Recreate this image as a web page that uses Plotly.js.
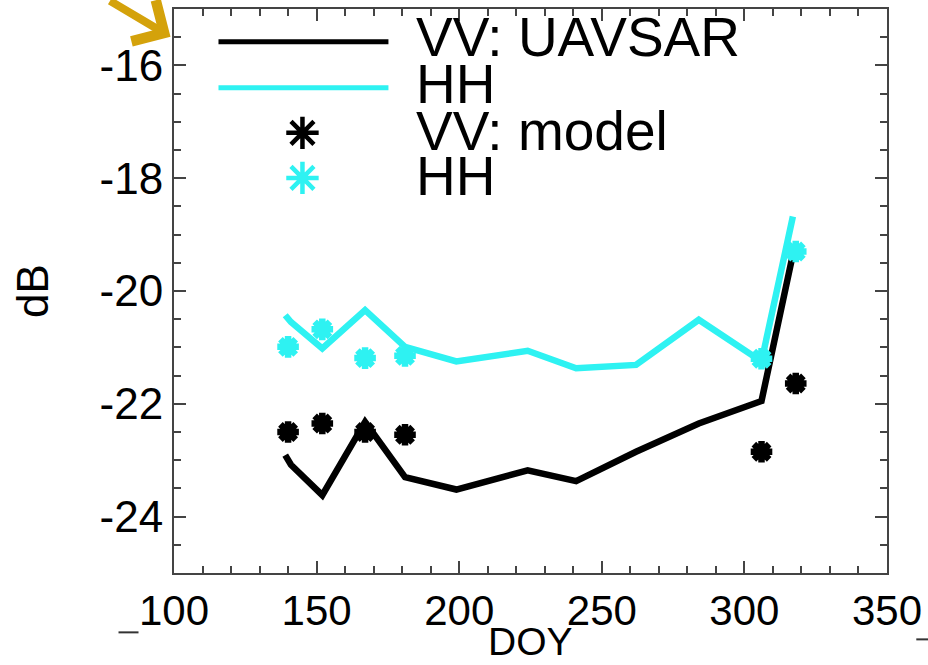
<!DOCTYPE html>
<html>
<head>
<meta charset="utf-8">
<script src="https://cdn.plot.ly/plotly-3.0.1.min.js"></script>
<style>
  html, body { margin: 0; padding: 0; background: #ffffff; }
  #chart { width: 928px; height: 665px; }
</style>
</head>
<body>
<div id="chart"></div>
<script>
// ---- data ----
const doyUavsar = [139, 141, 152, 167, 181, 199, 224, 241, 262, 284, 306, 317];
const vvUavsar  = [-22.91, -23.08, -23.62, -22.32, -23.30, -23.52, -23.18, -23.37, -22.85, -22.35, -21.95, -19.35];
const hhUavsar  = [-20.43, -20.55, -21.02, -20.34, -20.99, -21.25, -21.06, -21.37, -21.31, -20.51, -21.25, -18.68];

const doyModel = [140, 152, 167, 181, 306, 318];
const vvModel  = [-22.50, -22.35, -22.50, -22.55, -22.85, -21.64];
const hhModel  = [-20.99, -20.68, -21.19, -21.15, -21.20, -19.30];

const legendLabels = ['VV: UAVSAR', 'HH', 'VV: model', 'HH'];

const xTicks = [100, 150, 200, 250, 300, 350];
const yTicks = [-24, -22, -20, -18, -16];
const xTitle = 'DOY';
const yTitle = 'dB';

// ---- styles ----
const BLACK = '#000000';
const CYAN = '#2ef2f2';
const FONT = '"Liberation Sans Narrow", "Liberation Sans", Arial, sans-serif';

// plot area in pixels
const L = 173.5, R = 886.7, T = 9.3, B = 572.7;
const W = 928, H = 665;
const px2x = p => (p - L) / (R - L);
const px2y = p => (B - p) / (B - T);

const traces = [
  { x: doyUavsar, y: vvUavsar, type: 'scatter', mode: 'lines',
    line: { color: BLACK, width: 6.5 }, showlegend: false, hoverinfo: 'skip' },
  { x: doyUavsar, y: hhUavsar, type: 'scatter', mode: 'lines',
    line: { color: CYAN, width: 6.5 }, showlegend: false, hoverinfo: 'skip' },
  { x: doyModel, y: vvModel, type: 'scatter', mode: 'markers',
    marker: { symbol: 'asterisk-open', size: 18, color: BLACK, line: { color: BLACK, width: 6.5 } },
    showlegend: false, hoverinfo: 'skip' },
  { x: doyModel, y: hhModel, type: 'scatter', mode: 'markers',
    marker: { symbol: 'asterisk-open', size: 18, color: CYAN, line: { color: CYAN, width: 6.5 } },
    showlegend: false, hoverinfo: 'skip' },
  // hand-drawn legend symbols on an overlay axis pair spanning the plot area
  { x: [px2x(218), px2x(388)], y: [px2y(42), px2y(42)], xaxis: 'x2', yaxis: 'y2',
    type: 'scatter', mode: 'lines', line: { color: BLACK, width: 5 }, showlegend: false, hoverinfo: 'skip' },
  { x: [px2x(218), px2x(388)], y: [px2y(88), px2y(88)], xaxis: 'x2', yaxis: 'y2',
    type: 'scatter', mode: 'lines', line: { color: CYAN, width: 5 }, showlegend: false, hoverinfo: 'skip' },
  { x: [px2x(302)], y: [px2y(133)], xaxis: 'x2', yaxis: 'y2', type: 'scatter', mode: 'markers',
    marker: { symbol: 'asterisk-open', size: 27, color: BLACK, line: { color: BLACK, width: 4.5 } },
    showlegend: false, hoverinfo: 'skip' },
  { x: [px2x(302)], y: [px2y(178)], xaxis: 'x2', yaxis: 'y2', type: 'scatter', mode: 'markers',
    marker: { symbol: 'asterisk-open', size: 27, color: CYAN, line: { color: CYAN, width: 4.5 } },
    showlegend: false, hoverinfo: 'skip' }
];

const legendRowsY = [37, 84, 131, 176];
const annotations = legendLabels.map((t, i) => ({
  xref: 'paper', yref: 'paper', x: px2x(414), y: px2y(legendRowsY[i]),
  xanchor: 'left', yanchor: 'middle', text: t, showarrow: false,
  height: 45, valign: 'middle',
  font: { family: FONT, size: 55, color: '#000' }
}));
// x-axis title placed precisely below the tick labels
annotations.push({
  xref: 'paper', yref: 'paper', x: 0.5, y: px2y(665),
  xanchor: 'center', yanchor: 'bottom', text: xTitle, showarrow: false,
  font: { family: FONT, size: 39, color: '#000' }
});
// gold pointer arrow in the top-left corner
annotations.push({
  xref: 'paper', yref: 'paper', x: px2x(170), y: px2y(37),
  ax: -62, ay: -62, showarrow: true, arrowhead: 4, arrowsize: 1.15, arrowwidth: 8,
  arrowcolor: '#d4a20b', text: ''
});

const layout = {
  width: W, height: H,
  margin: { l: L, r: W - R, t: T, b: H - B, pad: 0 },
  paper_bgcolor: '#ffffff', plot_bgcolor: '#ffffff',
  showlegend: false,
  font: { family: FONT, color: '#000' },
  xaxis: {
    range: [100, 350], tickvals: xTicks, ticktext: xTicks.map(String),
    ticks: 'inside', ticklen: 12, tickwidth: 2, tickcolor: '#444',
    showline: true, linecolor: '#444', linewidth: 2, mirror: 'ticks',
    showgrid: false, zeroline: false,
    tickfont: { family: FONT, size: 42, color: '#000' },
    minor: { dtick: 10, tick0: 100, ticks: 'inside', ticklen: 7, tickwidth: 2, tickcolor: '#444', showgrid: false },
    automargin: false
  },
  yaxis: {
    range: [-25, -15], tickvals: yTicks, ticktext: yTicks.map(String),
    ticks: 'inside', ticklen: 12, tickwidth: 2, tickcolor: '#444',
    showline: true, linecolor: '#444', linewidth: 2, mirror: 'ticks',
    showgrid: false, zeroline: false,
    tickfont: { family: FONT, size: 44, color: '#000' },
    minor: { dtick: 0.5, tick0: -25, ticks: 'inside', ticklen: 7, tickwidth: 2, tickcolor: '#444', showgrid: false },
    title: { text: yTitle, font: { family: FONT, size: 44, color: '#000' }, standoff: 37 },
    automargin: false
  },
  xaxis2: { overlaying: 'x', range: [0, 1], visible: false, fixedrange: true },
  yaxis2: { overlaying: 'y', range: [0, 1], visible: false, fixedrange: true },
  annotations: annotations,
  shapes: [
    { type: 'line', xref: 'paper', yref: 'paper', x0: px2x(118), x1: px2x(138), y0: px2y(632), y1: px2y(632),
      line: { color: '#333', width: 2 } },
    { type: 'line', xref: 'paper', yref: 'paper', x0: px2x(916), x1: px2x(928), y0: px2y(639), y1: px2y(639),
      line: { color: '#333', width: 2 } }
  ]
};

Plotly.newPlot('chart', traces, layout, { staticPlot: true, displayModeBar: false });
</script>
</body>
</html>
